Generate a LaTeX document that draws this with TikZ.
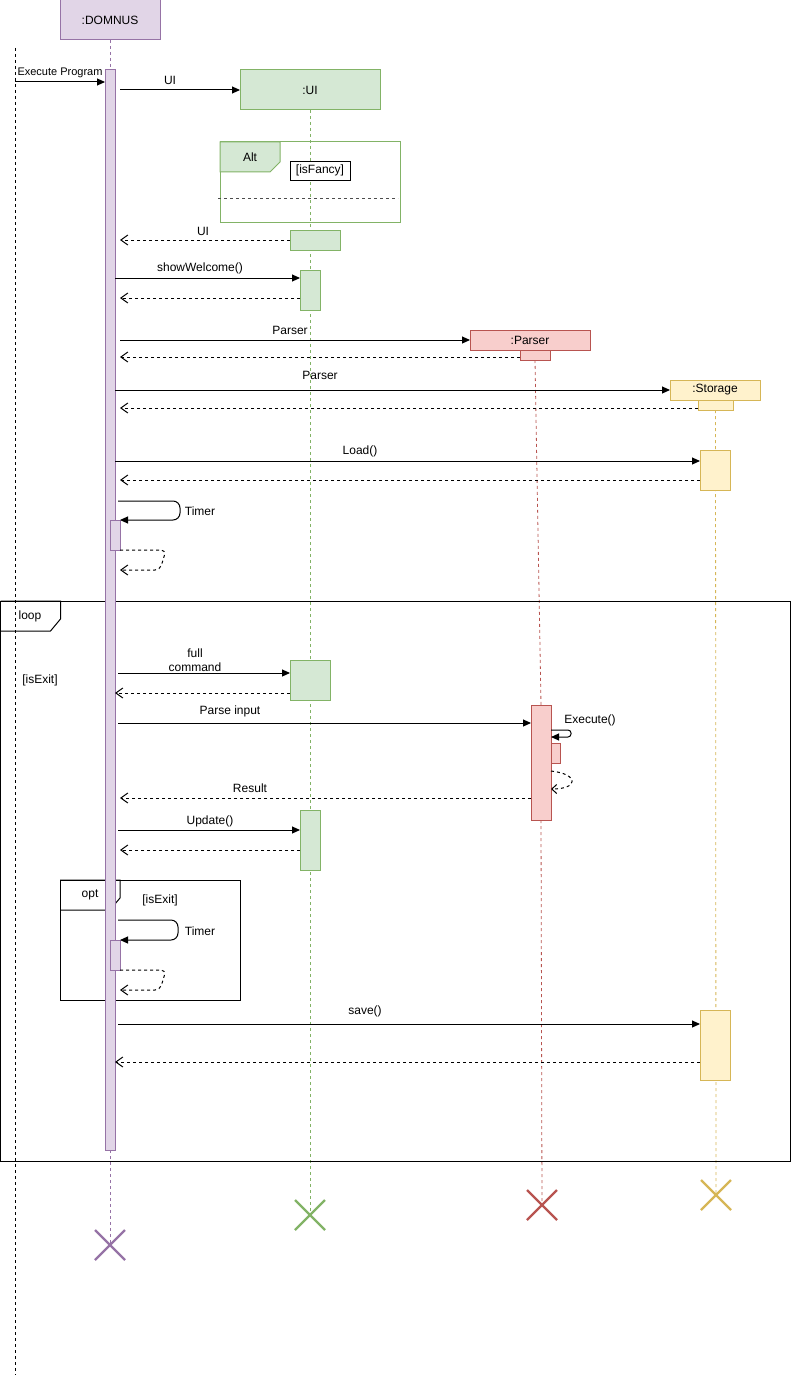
\documentclass[tikz,border=0pt]{standalone}
\usepackage{fontspec}
\setmainfont{Liberation Sans}
\usetikzlibrary{arrows.meta,shapes.misc}
\definecolor{pfill}{HTML}{E1D5E7}
\definecolor{pline}{HTML}{9673A6}
\definecolor{gfill}{HTML}{D5E8D4}
\definecolor{gline}{HTML}{82B366}
\definecolor{rfill}{HTML}{F8CECC}
\definecolor{rline}{HTML}{B85450}
\definecolor{yfill}{HTML}{FFF2CC}
\definecolor{yline}{HTML}{D6B656}
\begin{document}
\begin{tikzpicture}[x=1pt,y=-1pt,
  font=\fontsize{12}{14}\selectfont,
  every node/.style={inner sep=0pt, outer sep=0pt},
  pbox/.style={draw=pline, fill=pfill, line width=1pt},
  gbox/.style={draw=gline, fill=gfill, line width=1pt},
  rbox/.style={draw=rline, fill=rfill, line width=1pt},
  ybox/.style={draw=yline, fill=yfill, line width=1pt},
  plife/.style={draw=pline, line width=0.8pt, dash pattern=on 3pt off 3pt},
  glife/.style={draw=gline, line width=0.8pt, dash pattern=on 3pt off 3pt},
  rlife/.style={draw=rline, line width=0.8pt, dash pattern=on 3pt off 3pt},
  ylife/.style={draw=yline, line width=0.8pt, dash pattern=on 3pt off 3pt},
  klife/.style={draw=black, line width=0.8pt, dash pattern=on 3pt off 3pt},
  msg/.style={draw=black, line width=1pt, -{Triangle[length=8pt,width=7pt]}},
  ret/.style={draw=black, line width=1pt, dash pattern=on 3pt off 3pt, -{Straight Barb[length=7pt,width=10pt]}},
  frame/.style={draw=black, line width=1pt},
  xmark/.style={cross out, draw=#1, line width=2.2pt, minimum width=30pt, minimum height=30pt},
  lbl/.style={font=\fontsize{12}{14}\selectfont},
  smalllbl/.style={font=\fontsize{11}{13}\selectfont}
]
\useasboundingbox (0,0) rectangle (791,1375);

% ---------- heads, end marks, coordinates ----------
\coordinate (actTop) at (15,48);
\coordinate (actBot) at (15,1375);
\node[pbox, minimum width=100pt, minimum height=40pt] (dom) at (110,20) {:DOMNUS};
\node[gbox, minimum width=140pt, minimum height=40pt] (ui) at (310,90) {:UI};
\node[rbox, minimum width=120pt, minimum height=20pt] (parser) at (530,340) {:Parser};
\node[ybox, minimum width=90pt, minimum height=20pt] (storage) at (715,390) {:Storage};

\node[xmark=pline] (domx) at (110,1245) {};
\node[xmark=gline] (uix) at (310,1215) {};
\node[xmark=rline] (parx) at (542,1205) {};
\node[xmark=yline] (stx) at (716,1195) {};

% activation boxes (placed first for lifelines)
\path node[minimum width=10pt, minimum height=1080pt] (domact) at (110,610) {};
\path node[minimum width=30pt, minimum height=10pt] (paract1) at (535,355) {};
\path node[minimum width=20pt, minimum height=115pt] (paract2) at (541,762.5) {};
\path node[minimum width=35pt, minimum height=10pt] (stact1) at (715.5,405) {};

% ---------- lifelines ----------
\draw[klife] (actTop) -- (actBot);
\draw[plife] (dom.south) -- (domact.north);
\draw[plife] (domact.south) -- (domx.center);
\draw[glife] (ui.south) -- (uix.center);
\draw[rlife] (paract1.south) -- (paract2.north);
\draw[rlife] (paract2.south) -- (parx.center);
\draw[ylife] (stact1.south) -- (stx.center);

% ---------- frames ----------
\node[draw=gline, line width=1pt, minimum width=180pt, minimum height=80pt] (altfr) at (310,182) {};
\draw[draw=gline, fill=gfill, line width=1pt] (altfr.north west) -- ++(60,0) -- ++(0,20) -- ++(-10,10) -- ++(-50,0) -- cycle;
\node[lbl] (altlbl) at (250,157) {Alt};
\draw[draw=black!70, line width=0.8pt, dash pattern=on 3pt off 3pt] ([xshift=-2pt]altfr.west |- 0,198) -- ([xshift=-2pt]altfr.east |- 0,198);

\node[frame, minimum width=790pt, minimum height=560pt] (loopfr) at (395.5,881) {};
\draw[frame] (loopfr.north west) -- ++(60,0) -- ++(0,18) -- ++(-10,12) -- ++(-50,0);
\node[lbl] (looplbl) at (30,616) {loop};
\node[lbl] (loopcond) at (40,680) {[isExit]};

\node[frame, minimum width=180pt, minimum height=120pt] (optfr) at (150,940) {};
\draw[frame] (optfr.north west) -- ++(60,0) -- ++(0,18) -- ++(-10,12) -- ++(-50,0);
\node[lbl] (optlbl) at (90,895) {opt};
\node[lbl] (optcond) at (160,900) {[isExit]};

% ---------- activation bars ----------
\node[pbox, minimum width=10pt, minimum height=1080pt] at (domact) {};
\node[pbox, minimum width=10pt, minimum height=30pt] (domt1) at (115,535) {};
\node[pbox, minimum width=10pt, minimum height=30pt] (domt2) at (115,955) {};
\node[gbox, minimum width=50pt, minimum height=20pt] (uiact1) at (315,240) {};
\node[gbox, minimum width=20pt, minimum height=40pt] (uiact2) at (310,290) {};
\node[gbox, minimum width=40pt, minimum height=40pt] (uiact3) at (310,680) {};
\node[gbox, minimum width=20pt, minimum height=60pt] (uiact4) at (310,840) {};
\node[rbox, minimum width=30pt, minimum height=10pt] at (paract1) {};
\node[rbox, minimum width=20pt, minimum height=115pt] at (paract2) {};
\node[rbox, minimum width=9pt, minimum height=20pt] (paract3) at (555.5,753) {};
\node[ybox, minimum width=35pt, minimum height=10pt] at (stact1) {};
\node[ybox, minimum width=30pt, minimum height=40pt] (stact2) at (715,470) {};
\node[ybox, minimum width=30pt, minimum height=70pt] (stact3) at (715,1045) {};

\node[draw=black, fill=white, line width=0.8pt, minimum width=60pt, minimum height=19pt] (fancy) at (320,170.5) {[isFancy]};

\coordinate (dR) at ([xshift=5pt]domact.east);
\coordinate (dE) at ([xshift=3pt]domact.east);

% ---------- messages ----------
\draw[msg] (actTop |- 0,82) -- (domact.west |- 0,82);
\node[smalllbl] (execlbl) at (60,73) {Execute Program};

\draw[msg] (dR |- 0,90) -- (ui.west |- 0,90);
\node[lbl] (uilbl) at (170,80) {UI};

\draw[ret] (uiact1.west) -- (dR |- uiact1.west);
\node[lbl] (uiretlbl) at (203,231) {UI};

\draw[msg] (domact.east |- 0,278) -- (uiact2.west |- 0,278);
\node[lbl] (swlbl) at (200,268) {showWelcome()};
\draw[ret] (uiact2.west |- 0,298) -- (dR |- 0,298);

\draw[msg] (dR |- parser.west) -- (parser.west);
\node[lbl] (plbl) at (290,330) {Parser};
\draw[ret] (paract1.west |- 0,357) -- (dR |- 0,357);

\draw[msg] (domact.east |- storage.west) -- (storage.west);
\node[lbl] (slbl) at (320,375) {Parser};
\draw[ret] (stact1.west |- 0,408) -- (dR |- 0,408);

\draw[msg] (domact.east |- 0,461) -- (stact2.west |- 0,461);
\node[lbl] (loadlbl) at (360,451) {Load()};
\draw[ret] (stact2.west |- 0,480) -- (dR |- 0,480);

\draw[msg, rounded corners=7pt] (dE |- 0,501) -- ++(62,0) -- ++(0,19) -- (domt1.north east);
\node[lbl] (t1lbl) at (200,511) {Timer};
\draw[ret, rounded corners=5pt] (domt1.south east) -- ++(46,0) -- ++(-6,20) -- (dR |- 0,570);

\draw[msg] (dE |- 0,673) -- (uiact3.west |- 0,673);
\node[lbl, align=center] (fclbl) at (195,660) {full\\command};
\draw[ret] (uiact3.west |- 0,693) -- (domact.east |- 0,693);

\draw[msg] (dE |- 0,723) -- (paract2.west |- 0,723);
\node[lbl] (pilbl) at (230,711) {Parse input};

\draw[msg, rounded corners=3pt] (paract2.east |- 0,730) -- ++(20,0) -- ++(0,7) -- (paract2.east |- 0,737);
\node[lbl] (exlbl) at (590,720) {Execute()};
\draw[draw=black, line width=1pt, dash pattern=on 3pt off 3pt, -{Straight Barb[length=5pt,width=9pt]}] (paract2.east |- 0,771) .. controls +(28,3) and +(28,0) .. (paract2.east |- 0,789);

\draw[ret] (paract2.west |- 0,798) -- (dR |- 0,798);
\node[lbl] (reslbl) at (250,788) {Result};

\draw[msg] (dE |- 0,830) -- (uiact4.west |- 0,830);
\node[lbl] (uplbl) at (210,821) {Update()};
\draw[ret] (uiact4.west |- 0,850) -- (dR |- 0,850);

\draw[msg, rounded corners=7pt] (dE |- 0,920) -- ++(60,0) -- ++(0,20) -- (domt2.north east);
\node[lbl] (t2lbl) at (200,931) {Timer};
\draw[ret, rounded corners=5pt] (domt2.south east) -- ++(46,0) -- ++(-6,20) -- (dR |- 0,990);

\draw[msg] (dE |- 0,1024) -- (stact3.west |- 0,1024);
\node[lbl] (savelbl) at (365,1011) {save()};
\draw[ret] (stact3.west |- 0,1062) -- (domact.east |- 0,1062);
\end{tikzpicture}
\end{document}
